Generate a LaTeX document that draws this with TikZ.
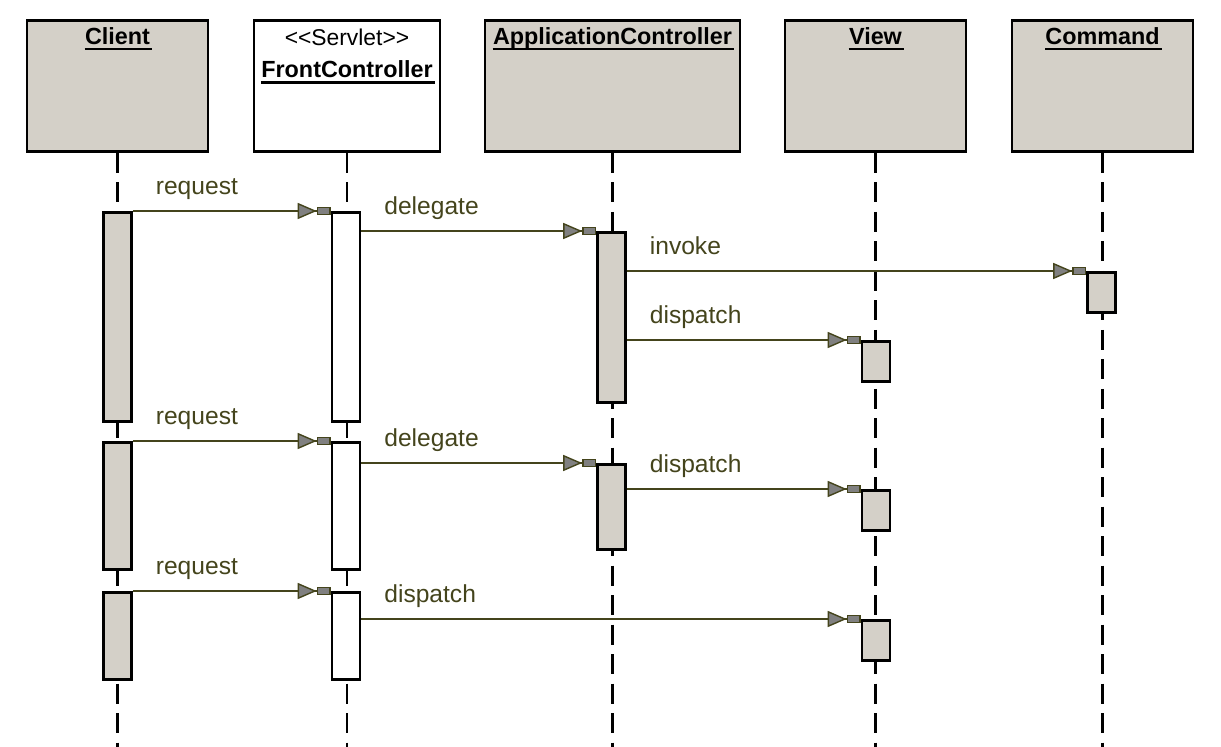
\documentclass[tikz,border=0pt]{standalone}
\usepackage{fontspec}
\setmainfont{Liberation Sans}
\usetikzlibrary{arrows.meta, positioning}

\definecolor{boxgray}{RGB}{212,208,200}
\definecolor{msgline}{RGB}{68,68,28}
\definecolor{tipgray}{RGB}{128,128,128}

\begin{document}
\begin{tikzpicture}
    %defining some styles
    [
        x=0.02cm, y=-0.02cm,
        header/.style={rectangle, draw=black, fill=boxgray, line width=1.5pt, minimum height=2.62cm, inner sep=0},
        title/.style={font=\fontsize{13.3}{16}\selectfont\bfseries, inner sep=0},
        stereo/.style={font=\fontsize{13}{16}\selectfont, inner sep=0},
        activation/.style={rectangle, draw=black, fill=boxgray, line width=1.5pt, minimum width=0.56cm, anchor=north, inner sep=0},
        lifeline/.style={draw=black, line width=1.4pt, dash pattern=on 0.4cm off 0.19cm},
        msg/.style={draw=msgline, line width=1.2pt,
            -{Triangle[length=0.38cm, width=0.32cm, fill=tipgray, line width=0.8pt]Rectangle[length=0.28cm, width=0.17cm, fill=tipgray, line width=0.8pt]}},
        msglabel/.style={text=msgline, font=\fontsize{14}{16}\selectfont, inner sep=0, anchor=base west, xshift=0.44cm, yshift=0.34cm},
        uline/.style={line width=1.4pt}
    ]
    \useasboundingbox (0,0) rectangle (1221,747);
    \coordinate (bottom) at (0,747);

    % object headers
    \node[header, minimum width=3.62cm] (client) at (117.5,86) {};
    \node[header, minimum width=3.72cm, fill=white] (front) at (347,86) {};
    \node[header, minimum width=5.1cm] (appctl) at (612.5,86) {};
    \node[header, minimum width=3.62cm] (view) at (875.5,86) {};
    \node[header, minimum width=3.62cm] (command) at (1102.5,86) {};

    \node[title] (clientname) [below=0.16cm of client.north] {Client};
    \node[stereo] (servlet) [below=0.18cm of front.north] {<{}<Servlet>{}>};
    \node[title] (frontname) [below=0.3cm of servlet] {FrontController};
    \node[title] (appctlname) [below=0.16cm of appctl.north] {ApplicationController};
    \node[title] (viewname) [below=0.16cm of view.north] {View};
    \node[title] (commandname) [below=0.16cm of command.north] {Command};

    \foreach \n in {clientname, frontname, appctlname, viewname, commandname}
        \draw[uline] ([yshift=-0.09cm]\n.base west) -- ([xshift=0.04cm, yshift=-0.09cm]\n.base east);

    % lifelines
    \foreach \n in {client, front, appctl, view, command}
        \draw[lifeline] (\n.south) -- (\n.south |- bottom);

    % activation bars
    \node[activation, minimum height=4.18cm] (cl1) at (117.5,211) {};
    \node[activation, minimum height=2.54cm] (cl2) at (117.5,441) {};
    \node[activation, minimum height=1.74cm] (cl3) at (117.5,591) {};
    \node[activation, minimum height=4.18cm, fill=white] (fc1) at (346,211) {};
    \node[activation, minimum height=2.54cm, fill=white] (fc2) at (346,441) {};
    \node[activation, minimum height=1.74cm, fill=white] (fc3) at (346,591) {};
    \node[activation, minimum height=3.4cm] (ac1) at (611.5,231) {};
    \node[activation, minimum height=1.7cm] (ac2) at (611.5,463) {};
    \node[activation, minimum height=0.8cm] (cm1) at (1101.5,271) {};
    \node[activation, minimum height=0.8cm] (vw1) at (876,340) {};
    \node[activation, minimum height=0.8cm] (vw2) at (876,489) {};
    \node[activation, minimum height=0.8cm] (vw3) at (876,619) {};

    % messages
    \draw[msg] (cl1.north east) -- node[msglabel, at start] {request} (fc1.north west);
    \draw[msg] (fc1.east |- ac1.north) -- node[msglabel, at start] {delegate} (ac1.north west);
    \draw[msg] (ac1.east |- cm1.north) -- node[msglabel, at start] {invoke} (cm1.north west);
    \draw[msg] (ac1.east |- vw1.north) -- node[msglabel, at start] {dispatch} (vw1.north west);
    \draw[msg] (cl2.north east) -- node[msglabel, at start] {request} (fc2.north west);
    \draw[msg] (fc2.east |- ac2.north) -- node[msglabel, at start] {delegate} (ac2.north west);
    \draw[msg] (ac2.east |- vw2.north) -- node[msglabel, at start] {dispatch} (vw2.north west);
    \draw[msg] (cl3.north east) -- node[msglabel, at start] {request} (fc3.north west);
    \draw[msg] (fc3.east |- vw3.north) -- node[msglabel, at start] {dispatch} (vw3.north west);
\end{tikzpicture}
\end{document}
